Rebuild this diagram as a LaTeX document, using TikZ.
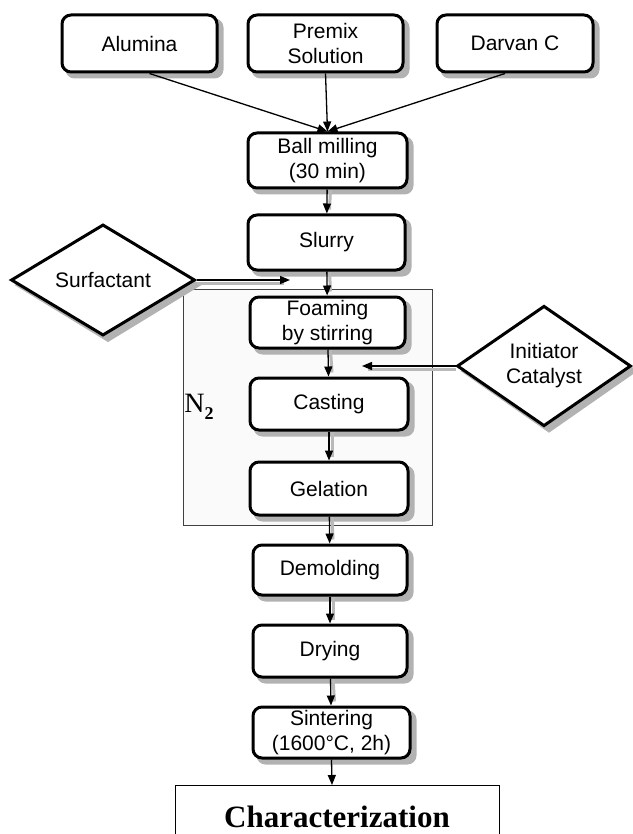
\documentclass[tikz,border=0pt]{standalone}
\usepackage{fontspec}
\setmainfont{Liberation Serif}
\setsansfont{Liberation Sans}
\usetikzlibrary{shapes.geometric,arrows.meta,backgrounds}
\begin{document}
\begin{tikzpicture}[x=1pt,y=-1pt,
  procbox/.style={draw,line width=3pt,rounded corners=9pt,fill=white,
    font=\sffamily\fontsize{21}{25}\selectfont,align=center,inner sep=0pt},
  inbox/.style={draw,diamond,line width=3pt,fill=white,
    font=\sffamily\fontsize{21}{25}\selectfont,align=center,inner sep=0pt},
  shade/.style={fill=gray!60},
  arrshade/.style={draw=gray!55,line width=3pt},
  arr/.style={line width=1.3pt,-{Triangle[length=10pt,width=8pt]}}]
\useasboundingbox (0,0) rectangle (632,834);
% top inputs
\node[procbox,minimum width=155,minimum height=57] (alumina) at (139.5,43.5) {Alumina};
\node[procbox,minimum width=155,minimum height=57] (premix) at (325.5,43.5) {Premix\\Solution};
\node[procbox,minimum width=156,minimum height=57] (darvan) at (515,43.5) {Darvan C};
% main flow
\node[procbox,minimum width=159,minimum height=55] (ball) at (327.5,160.5) {Ball milling\\(30 min)};
\node[procbox,minimum width=157,minimum height=55] (slurry) at (326.5,242.5) {Slurry};
\node[procbox,minimum width=155,minimum height=51] (foam) at (327.5,322.5) {Foaming\\by stirring};
\node[procbox,minimum width=158,minimum height=52] (cast) at (329,404) {Casting};
\node[procbox,minimum width=158,minimum height=53] (gel) at (329,488.5) {Gelation};
\node[procbox,minimum width=154,minimum height=50] (demold) at (330,570) {Demolding};
\node[procbox,minimum width=154,minimum height=52] (dry) at (330,651) {Drying};
\node[procbox,minimum width=157,minimum height=51] (sinter) at (331.5,732.5) {Sintering\\(1600\textdegree{}C, 2h)};
\node[draw,line width=0.9pt,minimum width=324,minimum height=62,anchor=north,inner sep=0pt,
  font=\bfseries\fontsize{31}{33}\selectfont] (charact) at (337,785) {Characterization};
% additives
\node[inbox,minimum width=184,minimum height=80] (surf) at (103,280) {Surfactant};
\node[inbox,minimum width=174,minimum height=90] (init) at (544,366) {Initiator\\Catalyst};
\coordinate (surfend) at (290,280);
\coordinate (initend) at (362,366);
\coordinate (charin) at (332,785);
% background: N2 enclosure and shadows
\begin{scope}[on background layer]
\node[draw=black!75,line width=0.9pt,fill=gray!4,minimum width=249,minimum height=236,inner sep=0pt] (n2box) at (307.5,407) {};
\foreach \n in {alumina,premix,darvan,ball,slurry,foam,cast,gel,demold,dry,sinter}{
  \fill[shade,rounded corners=9pt] ([shift={(5,5)}]\n.north west) rectangle ([shift={(5,5)}]\n.south east);
}
\foreach \n in {surf,init}{
  \fill[shade] ([shift={(5,5)}]\n.north) -- ([shift={(5,5)}]\n.east) -- ([shift={(5,5)}]\n.south) -- ([shift={(5,5)}]\n.west) -- cycle;
}
\foreach \a/\b in {ball/slurry,slurry/foam,foam/cast,cast/gel,gel/demold,demold/dry,dry/sinter}{
  \draw[arrshade] ([shift={(3,0)}]\a.south) -- ([shift={(3,-4)}]\b.north);
}
\draw[arrshade] ([shift={(0,3)}]surf.east) -- ([shift={(-6,3)}]surfend);
\draw[arrshade] ([shift={(0,3)}]init.west) -- ([shift={(6,3)}]initend);
\end{scope}
\node[font=\fontsize{28}{30}\selectfont,inner sep=0pt] (n2) at (199,407) {N\raisebox{-7pt}{\fontsize{18}{18}\selectfont\bfseries 2}};
% connectors
\draw[arr] ([xshift=10pt]alumina.south) -- (ball.north);
\draw[arr] (premix.south) -- (ball.north);
\draw[arr] ([xshift=-10pt]darvan.south) -- (ball.north);
\draw[arr] (ball) -- (slurry);
\draw[arr] (slurry) -- (foam);
\draw[arr] (foam) -- (cast);
\draw[arr] (cast) -- (gel);
\draw[arr] (gel) -- (demold);
\draw[arr] (demold) -- (dry);
\draw[arr] (dry) -- (sinter);
\draw[arr] (sinter.south) -- (charin);
\draw[arr] (surf.east) -- (surfend);
\draw[arr] (init.west) -- (initend);
\end{tikzpicture}
\end{document}
